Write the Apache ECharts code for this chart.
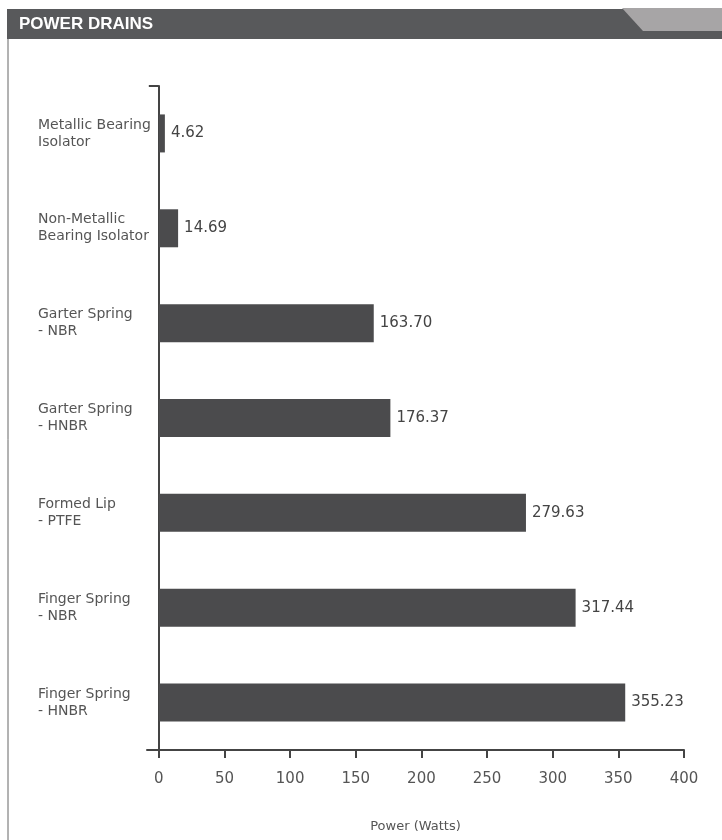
<!DOCTYPE html>
<html>
<head>
<meta charset="utf-8">
<script src="https://cdn.jsdelivr.net/npm/echarts@6/dist/echarts.min.js"></script>
<style>
html,body{margin:0;padding:0;background:#fff;}
#chart{width:722px;height:840px;}
</style>
</head>
<body>
<div id="chart"></div>
<script>
var categories = [
  "Metallic Bearing\nIsolator",
  "Non-Metallic\nBearing Isolator",
  "Garter Spring\n- NBR",
  "Garter Spring\n- HNBR",
  "Formed Lip\n- PTFE",
  "Finger Spring\n- NBR",
  "Finger Spring\n- HNBR"
];
var powerValues = [4.62, 14.69, 163.70, 176.37, 279.63, 317.44, 355.23];
var xTickValues = [0, 50, 100, 150, 200, 250, 300, 350, 400];
var titleText = "POWER DRAINS";
var axisTitle = "Power (Watts)";

var chart = echarts.init(document.getElementById('chart'), null, {renderer: 'canvas'});
var textColor = '#555';
var axisColor = '#444';
var option = {
  animation: false,
  backgroundColor: '#fff',
  textStyle: {fontFamily: 'DejaVu Sans'},
  graphic: [
    {type: 'rect', shape: {x: 7, y: 9, width: 715, height: 30}, style: {fill: '#58595b'}},
    {type: 'polygon', shape: {points: [[622, 8], [722, 8], [722, 31], [643, 31]]}, style: {fill: '#a7a5a6'}},
    {type: 'line', shape: {x1: 8, y1: 39, x2: 8, y2: 840}, style: {stroke: '#666', lineWidth: 1}},
    {type: 'text', x: 19, y: 24, style: {text: titleText, fill: '#fff', font: 'bold 17px "Liberation Sans", Arial, sans-serif', verticalAlign: 'middle'}}
  ],
  grid: {left: 147, right: 38, top: 86, bottom: 90, containLabel: false},
  xAxis: {
    type: 'value',
    min: -9,
    max: 400,
    name: axisTitle,
    nameLocation: 'middle',
    nameGap: 70,
    nameTextStyle: {fontSize: 13, color: textColor, fontFamily: 'DejaVu Sans'},
    axisLine: {show: true, lineStyle: {color: axisColor, width: 2}},
    axisTick: {show: true, customValues: xTickValues, length: 8, lineStyle: {color: axisColor, width: 2}},
    axisLabel: {customValues: xTickValues, fontSize: 15, color: textColor, margin: 22, fontFamily: 'DejaVu Sans'},
    splitLine: {show: false}
  },
  yAxis: {
    type: 'category',
    data: categories,
    inverse: true,
    axisLine: {show: true, onZero: true, lineStyle: {color: axisColor, width: 2}},
    axisTick: {show: true, length: 10, interval: function (i) { return i === 0; }, lineStyle: {color: axisColor, width: 2}},
    axisLabel: {align: 'left', margin: 109, fontSize: 14, lineHeight: 17, padding: [8, 0, 0, 0], color: textColor, fontFamily: 'DejaVu Sans'}
  },
  series: [{
    type: 'bar',
    data: powerValues,
    barWidth: 38,
    itemStyle: {color: '#4b4b4d'},
    label: {
      show: true,
      position: 'right',
      distance: 6,
      fontSize: 15,
      color: '#444',
      fontFamily: 'DejaVu Sans',
      formatter: function (p) { return p.value.toFixed(2); }
    }
  }]
};
chart.setOption(option);
</script>
</body>
</html>
